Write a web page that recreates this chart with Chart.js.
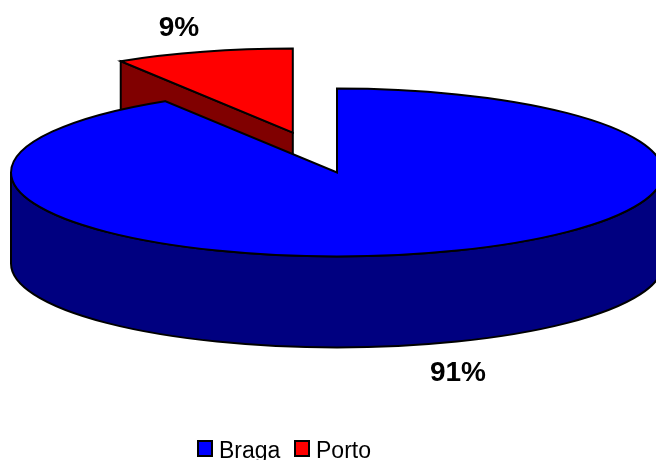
<!DOCTYPE html>
<html>
<head>
<meta charset="utf-8">
<style>
html,body{margin:0;padding:0;background:#fff;overflow:hidden}
canvas{display:block}
</style>
<script src="https://cdn.jsdelivr.net/npm/chart.js@4/dist/chart.umd.js"></script>
</head>
<body>
<canvas id="c" width="656" height="460"></canvas>
<script>
const categories = ['Braga', 'Porto'];
const shares = [91.15, 8.85];
const topColors = ['#0000FF', '#FF0000'];
const sideColors = ['#000080', '#800000'];
const explode = [0, 161];

const view = {cx: 337, cy: 172.5, radius: 326, flat: 84 / 326, depth: 91};
const labelPos = [{x: 458, y: 373}, {x: 179, y: 28}];
const legendPos = [{box: 198, text: 219}, {box: 295, text: 316}];

let base = {x: 0, y: 0};

function arcGeom(el) {
  return {
    x: view.cx + (el.x - base.x),
    y: view.cy + (el.y - base.y) * view.flat,
    rx: el.outerRadius,
    ry: el.outerRadius * view.flat,
    a0: el.startAngle,
    a1: el.endAngle
  };
}

const pie3d = {
  id: 'pie3d',
  afterDatasetsUpdate(chart) {
    const arcs = chart.getDatasetMeta(0).data;
    base = {x: arcs[0].x, y: arcs[0].y};
    arcs.forEach((el, i) => {
      const mid = (el.startAngle + el.endAngle) / 2;
      el.x += Math.cos(mid) * explode[i];
      el.y += Math.sin(mid) * explode[i];
    });
  },
  beforeDatasetsDraw(chart) {
    const ctx = chart.ctx;
    const arcs = chart.getDatasetMeta(0).data;
    ctx.save();
    ctx.lineWidth = 2;
    ctx.strokeStyle = '#000';
    ctx.lineJoin = 'miter';
    for (let i = arcs.length - 1; i >= 0; i--) {
      const g = arcGeom(arcs[i]);
      ctx.fillStyle = sideColors[i];
      ctx.beginPath();
      if (g.a1 - g.a0 > Math.PI) {
        ctx.moveTo(g.x + g.rx, g.y);
        ctx.lineTo(g.x + g.rx, g.y + view.depth);
        ctx.ellipse(g.x, g.y + view.depth, g.rx, g.ry, 0, 0, Math.PI, false);
        ctx.lineTo(g.x - g.rx, g.y);
        ctx.ellipse(g.x, g.y, g.rx, g.ry, 0, Math.PI, 0, true);
      } else {
        const px = g.x + g.rx * Math.cos(g.a0);
        const py = g.y + g.ry * Math.sin(g.a0);
        ctx.moveTo(px, py);
        ctx.lineTo(g.x, g.y);
        ctx.lineTo(g.x, g.y + view.depth);
        ctx.lineTo(px, py + view.depth);
      }
      ctx.closePath();
      ctx.fill();
      ctx.stroke();
    }
    ctx.restore();
    ctx.save();
    ctx.translate(view.cx, view.cy);
    ctx.scale(1, view.flat);
    ctx.translate(-base.x, -base.y);
  },
  afterDatasetsDraw(chart) {
    const ctx = chart.ctx;
    ctx.restore();
    const arcs = chart.getDatasetMeta(0).data;
    ctx.save();
    ctx.lineWidth = 2;
    ctx.strokeStyle = '#000';
    ctx.lineJoin = 'miter';
    for (let i = arcs.length - 1; i >= 0; i--) {
      const g = arcGeom(arcs[i]);
      ctx.beginPath();
      ctx.moveTo(g.x, g.y);
      ctx.ellipse(g.x, g.y, g.rx, g.ry, 0, g.a0, g.a1, false);
      ctx.closePath();
      ctx.stroke();
    }
    ctx.fillStyle = '#000';
    ctx.font = 'bold 28px "Liberation Sans"';
    ctx.textAlign = 'center';
    ctx.textBaseline = 'middle';
    shares.forEach((v, i) => ctx.fillText(Math.round(v) + '%', labelPos[i].x, labelPos[i].y));
    ctx.font = '23px "Liberation Sans"';
    ctx.textAlign = 'left';
    ctx.textBaseline = 'alphabetic';
    ctx.lineWidth = 2;
    categories.forEach((name, i) => {
      ctx.fillStyle = topColors[i];
      ctx.fillRect(legendPos[i].box, 441, 14, 15);
      ctx.strokeRect(legendPos[i].box, 441, 14, 15);
      ctx.fillStyle = '#000';
      ctx.fillText(name, legendPos[i].text, 458);
    });
    ctx.restore();
  }
};

new Chart(document.getElementById('c'), {
  type: 'pie',
  data: {
    labels: categories,
    datasets: [{
      data: shares,
      backgroundColor: topColors,
      borderWidth: 0,
      clip: false
    }]
  },
  options: {
    responsive: false,
    animation: false,
    radius: view.radius,
    rotation: 0,
    layout: {padding: 0},
    plugins: {legend: {display: false}, tooltip: {enabled: false}}
  },
  plugins: [pie3d]
});
</script>
</body>
</html>
